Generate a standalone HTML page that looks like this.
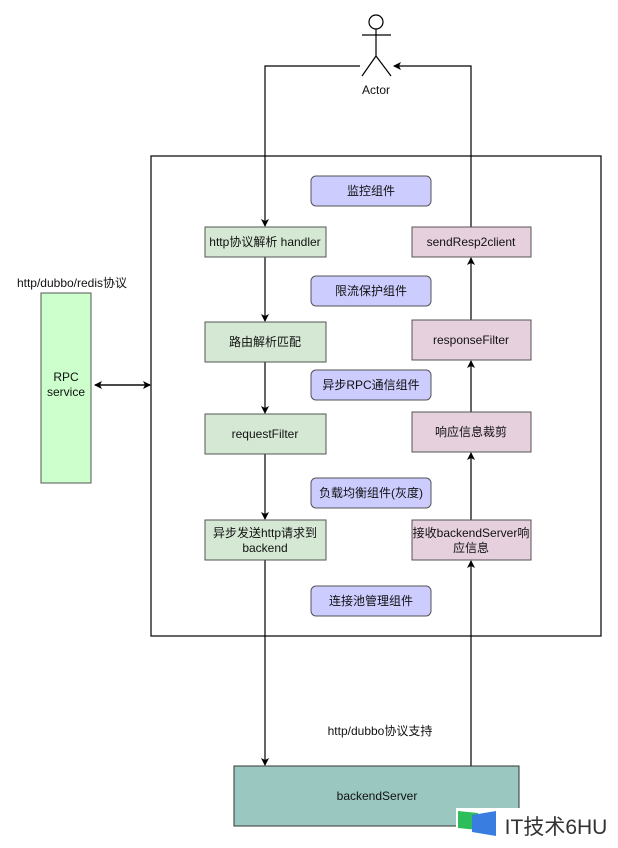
<!DOCTYPE html>
<html><head><meta charset="utf-8"><style>body{margin:0;background:#fff}svg text{font-family:"Liberation Sans","Noto Sans CJK SC",sans-serif;font-size:12px;fill:#111;text-anchor:middle}</style></head>
<body><svg width="618" height="843" viewBox="0 0 618 843" xmlns="http://www.w3.org/2000/svg">
<defs><marker id="a" markerWidth="8" markerHeight="8" refX="7" refY="4" orient="auto" markerUnits="userSpaceOnUse"><path d="M0,0 L8,4 L0,8 L2,4z" fill="#000"/></marker></defs>
<g stroke="#000" stroke-width="1.2" fill="none">
<circle cx="376" cy="22" r="7" fill="#fff"/>
<path d="M376 29V56M362 35H391M376 56L362 76M376 56L391 76"/>
<path d="M360 66H265V226" marker-end="url(#a)"/>
<path d="M471 227V66H394" marker-end="url(#a)"/>
<rect x="151" y="156" width="450" height="480"/>
<path d="M265 257V321" marker-end="url(#a)"/>
<path d="M265 362V413" marker-end="url(#a)"/>
<path d="M265 454V519" marker-end="url(#a)"/>
<path d="M265 560V765" marker-end="url(#a)"/>
<path d="M471 766V561" marker-end="url(#a)"/>
<path d="M471 520V453" marker-end="url(#a)"/>
<path d="M471 412V361" marker-end="url(#a)"/>
<path d="M471 320V258" marker-end="url(#a)"/>
<path d="M95 385H150" marker-end="url(#a)"/>
<path d="M150 385H95" marker-end="url(#a)"/>
</g>
<text x="376" y="94">Actor</text>
<g stroke="#555" stroke-width="1">
<rect x="205" y="227" width="121" height="30" fill="#d5e8d4"/>
<rect x="205" y="322" width="121" height="40" fill="#d5e8d4"/>
<rect x="205" y="414" width="121" height="40" fill="#d5e8d4"/>
<rect x="205" y="520" width="121" height="40" fill="#d5e8d4"/>
<rect x="412" y="227" width="119" height="30" fill="#e6d0de"/>
<rect x="412" y="320" width="119" height="40" fill="#e6d0de"/>
<rect x="412" y="412" width="119" height="40" fill="#e6d0de"/>
<rect x="412" y="520" width="119" height="40" fill="#e6d0de"/>
<g fill="#ccccff"><rect x="311" y="176" width="120" height="30" rx="5"/><rect x="311" y="276" width="120" height="30" rx="5"/><rect x="311" y="370" width="120" height="30" rx="5"/><rect x="311" y="478" width="120" height="30" rx="5"/><rect x="311" y="586" width="120" height="30" rx="5"/></g>
<rect x="41" y="293" width="50" height="190" fill="#ccffcc"/>
<rect x="234" y="766" width="285" height="60" fill="#9ac7bf" stroke="#333"/>
</g>
<text x="265" y="246">http协议解析 handler</text>
<text x="265" y="346">路由解析匹配</text>
<text x="265" y="438">requestFilter</text>
<text x="265" y="537">异步发送http请求到</text><text x="265" y="552">backend</text>
<text x="471" y="246">sendResp2client</text>
<text x="471" y="344">responseFilter</text>
<text x="471" y="436">响应信息裁剪</text>
<text x="471" y="537">接收backendServer响</text><text x="471" y="552">应信息</text>
<text x="371" y="195">监控组件</text>
<text x="371" y="295">限流保护组件</text>
<text x="371" y="389">异步RPC通信组件</text>
<text x="371" y="497">负载均衡组件(灰度)</text>
<text x="371" y="605">连接池管理组件</text>
<text x="66" y="381">RPC</text><text x="66" y="396">service</text>
<text x="72" y="287">http/dubbo/redis协议</text>
<text x="380" y="735">http/dubbo协议支持</text>
<text x="377" y="800">backendServer</text>
<rect x="456" y="808" width="162" height="35" fill="#fff"/>
<path d="M458 811L478 813V830L458 828z" fill="#2dbd5a"/>
<path d="M472 815L496 811V836L472 832z" fill="#3a7de0"/>
<text x="556" y="834" style="font-size:21px;fill:#333">IT技术6HU</text>
</svg></body></html>
